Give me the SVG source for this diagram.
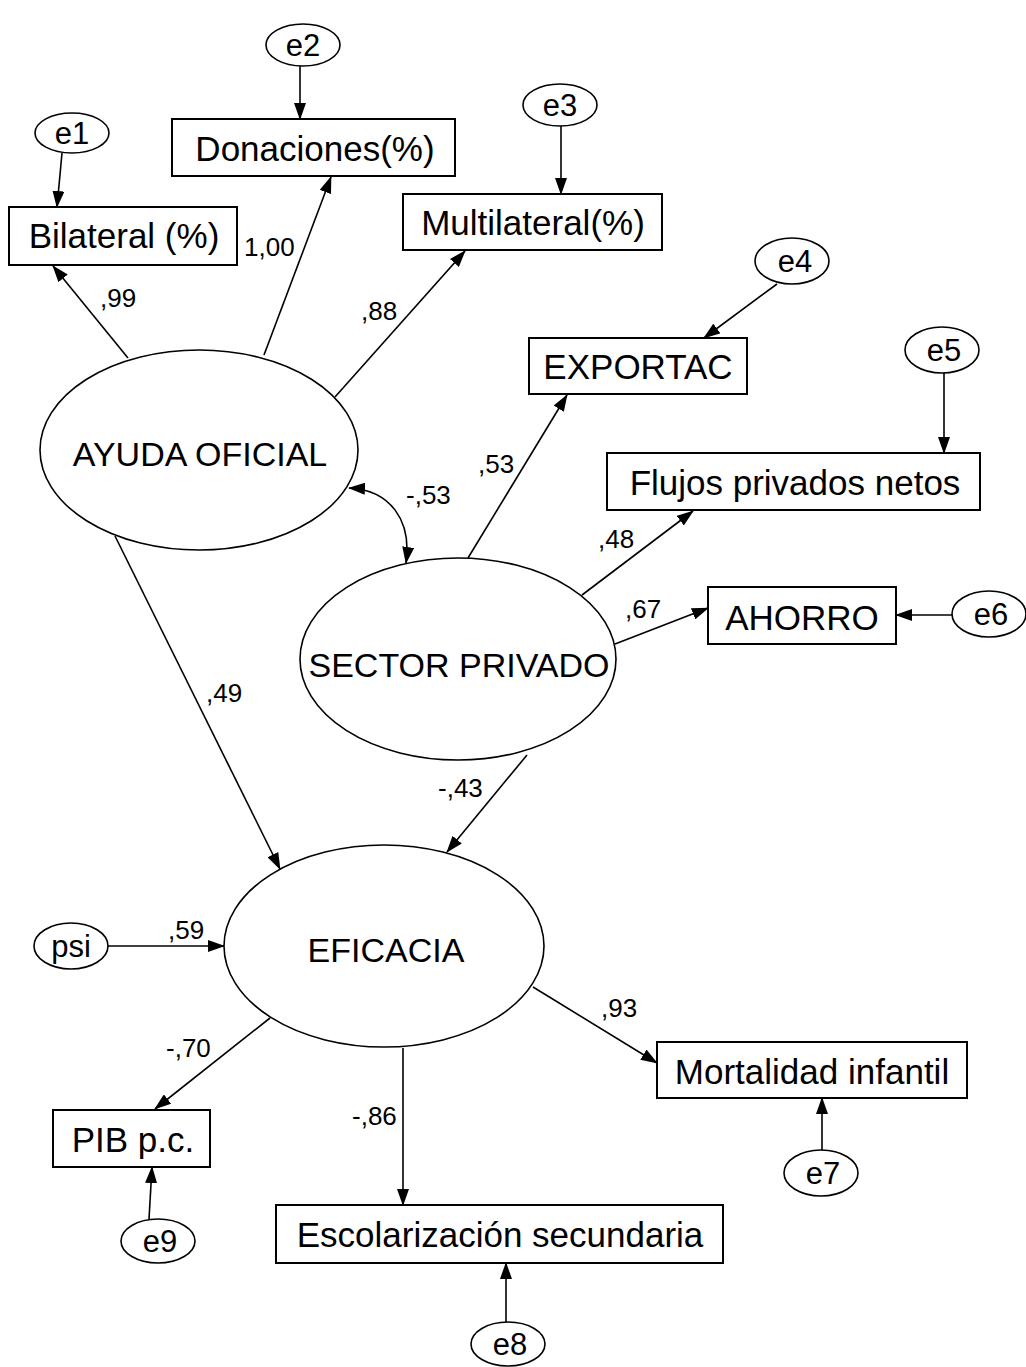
<svg xmlns="http://www.w3.org/2000/svg" width="1026" height="1367" viewBox="0 0 1026 1367">
<style>
.bg{fill:#fff}
.box{fill:#fff;stroke:#000;stroke-width:2}
.lat{fill:#fff;stroke:#000;stroke-width:1.6}
.err{fill:#fff;stroke:#000;stroke-width:1.6}
.t{font-family:"Liberation Sans",Arial,sans-serif;fill:#000}
.bt{font-size:35px;text-anchor:middle}
.lt{font-size:34px;text-anchor:middle}
.et{font-size:31px;text-anchor:middle}
.nt{font-size:26px}
.c{fill:none;stroke:#000;stroke-width:1.6;marker-end:url(#ah)}
</style>
<defs>
<marker id="ah" markerUnits="userSpaceOnUse" markerWidth="17" markerHeight="12" refX="16" refY="6" orient="auto-start-reverse" viewBox="0 0 17 12">
<path d="M0,0 L17,6 L0,12 z" fill="#000"/>
</marker>
</defs>
<rect class="bg" x="0" y="0" width="1026" height="1367"/>

<g id="connectors">
<line class="c" x1="62" y1="153" x2="57" y2="207"/>
<line class="c" x1="300" y1="66" x2="300" y2="119"/>
<line class="c" x1="561" y1="126" x2="561" y2="194"/>
<line class="c" x1="777" y1="284" x2="704" y2="338"/>
<line class="c" x1="944" y1="373" x2="944" y2="453"/>
<line class="c" x1="952" y1="615" x2="896" y2="615"/>
<line class="c" x1="822" y1="1150" x2="822" y2="1098"/>
<line class="c" x1="506" y1="1322" x2="506" y2="1263"/>
<line class="c" x1="149" y1="1219" x2="152" y2="1167"/>
<line class="c" x1="108" y1="946" x2="224" y2="946"/>
<line class="c" x1="128" y1="358" x2="53" y2="266"/>
<line class="c" x1="264" y1="355" x2="331" y2="177"/>
<line class="c" x1="335" y1="397" x2="465" y2="251"/>
<line class="c" x1="468" y1="558" x2="567" y2="395"/>
<line class="c" x1="582" y1="595" x2="693" y2="511"/>
<line class="c" x1="615" y1="644" x2="708" y2="608"/>
<line class="c" x1="115" y1="536" x2="280" y2="869"/>
<line class="c" x1="527" y1="755" x2="447" y2="852"/>
<line class="c" x1="270" y1="1018" x2="155" y2="1109"/>
<line class="c" x1="403" y1="1048" x2="403" y2="1205"/>
<line class="c" x1="533" y1="987" x2="657" y2="1063"/>
<path class="c" style="marker-start:url(#ah)" d="M349,488 C390,490 412,520 406,563"/>
<g class="t nt">
<text x="100" y="307">,99</text>
<text x="244" y="256">1,00</text>
<text x="361" y="320">,88</text>
<text x="478" y="473">,53</text>
<text x="406" y="504">-,53</text>
<text x="598" y="548">,48</text>
<text x="625" y="618">,67</text>
<text x="206" y="702">,49</text>
<text x="438" y="797">-,43</text>
<text x="168" y="939">,59</text>
<text x="166" y="1057">-,70</text>
<text x="352" y="1125">-,86</text>
<text x="601" y="1017">,93</text>
</g>
</g>

<g id="e1"><ellipse class="err" cx="72" cy="133" rx="37" ry="20"/><text class="t et" x="72" y="144">e1</text></g>
<g id="e2"><ellipse class="err" cx="303" cy="45" rx="37" ry="21"/><text class="t et" x="303" y="56">e2</text></g>
<g id="e3"><ellipse class="err" cx="560" cy="105" rx="37" ry="21"/><text class="t et" x="560" y="116">e3</text></g>
<g id="e4"><ellipse class="err" cx="792" cy="261" rx="37" ry="23"/><text class="t et" x="795" y="272">e4</text></g>
<g id="e5"><ellipse class="err" cx="942" cy="350" rx="37" ry="23"/><text class="t et" x="944" y="361">e5</text></g>
<g id="e6"><ellipse class="err" cx="989" cy="614" rx="37" ry="23"/><text class="t et" x="991" y="625">e6</text></g>
<g id="e7"><ellipse class="err" cx="821" cy="1173" rx="37" ry="23"/><text class="t et" x="823" y="1184">e7</text></g>
<g id="e8"><ellipse class="err" cx="508" cy="1344" rx="37" ry="22"/><text class="t et" x="510" y="1355">e8</text></g>
<g id="e9"><ellipse class="err" cx="158" cy="1241" rx="37" ry="22"/><text class="t et" x="160" y="1252">e9</text></g>
<g id="psi"><ellipse class="err" cx="71" cy="946" rx="37" ry="23"/><text class="t et" x="71" y="957">psi</text></g>

<g id="bilateral"><rect class="box" x="9" y="207" width="228" height="58"/><text class="t bt" x="124" y="248">Bilateral (%)</text></g>
<g id="donaciones"><rect class="box" x="172" y="119" width="283" height="57"/><text class="t bt" x="315" y="161">Donaciones(%)</text></g>
<g id="multilateral"><rect class="box" x="403" y="194" width="259" height="56"/><text class="t bt" x="533" y="235">Multilateral(%)</text></g>
<g id="exportac"><rect class="box" x="529" y="338" width="218" height="56"/><text class="t bt" x="638" y="379">EXPORTAC</text></g>
<g id="flujos"><rect class="box" x="607" y="453" width="373" height="57"/><text class="t bt" x="795" y="495">Flujos privados netos</text></g>
<g id="ahorro"><rect class="box" x="708" y="587" width="188" height="57"/><text class="t bt" x="802" y="630">AHORRO</text></g>
<g id="mortalidad"><rect class="box" x="657" y="1042" width="310" height="56"/><text class="t bt" x="812" y="1084">Mortalidad infantil</text></g>
<g id="pib"><rect class="box" x="53" y="1110" width="157" height="57"/><text class="t bt" x="133" y="1152">PIB p.c.</text></g>
<g id="escolarizacion"><rect class="box" x="276" y="1205" width="447" height="58"/><text class="t bt" x="500" y="1247">Escolarización secundaria</text></g>

<g id="ayuda"><ellipse class="lat" cx="199" cy="450" rx="159" ry="100"/><text class="t lt" x="200" y="466">AYUDA OFICIAL</text></g>
<g id="sector"><ellipse class="lat" cx="458" cy="659" rx="158" ry="101"/><text class="t lt" x="459" y="677">SECTOR PRIVADO</text></g>
<g id="eficacia"><ellipse class="lat" cx="384" cy="946" rx="160" ry="101"/><text class="t lt" x="386" y="962">EFICACIA</text></g>
</svg>
